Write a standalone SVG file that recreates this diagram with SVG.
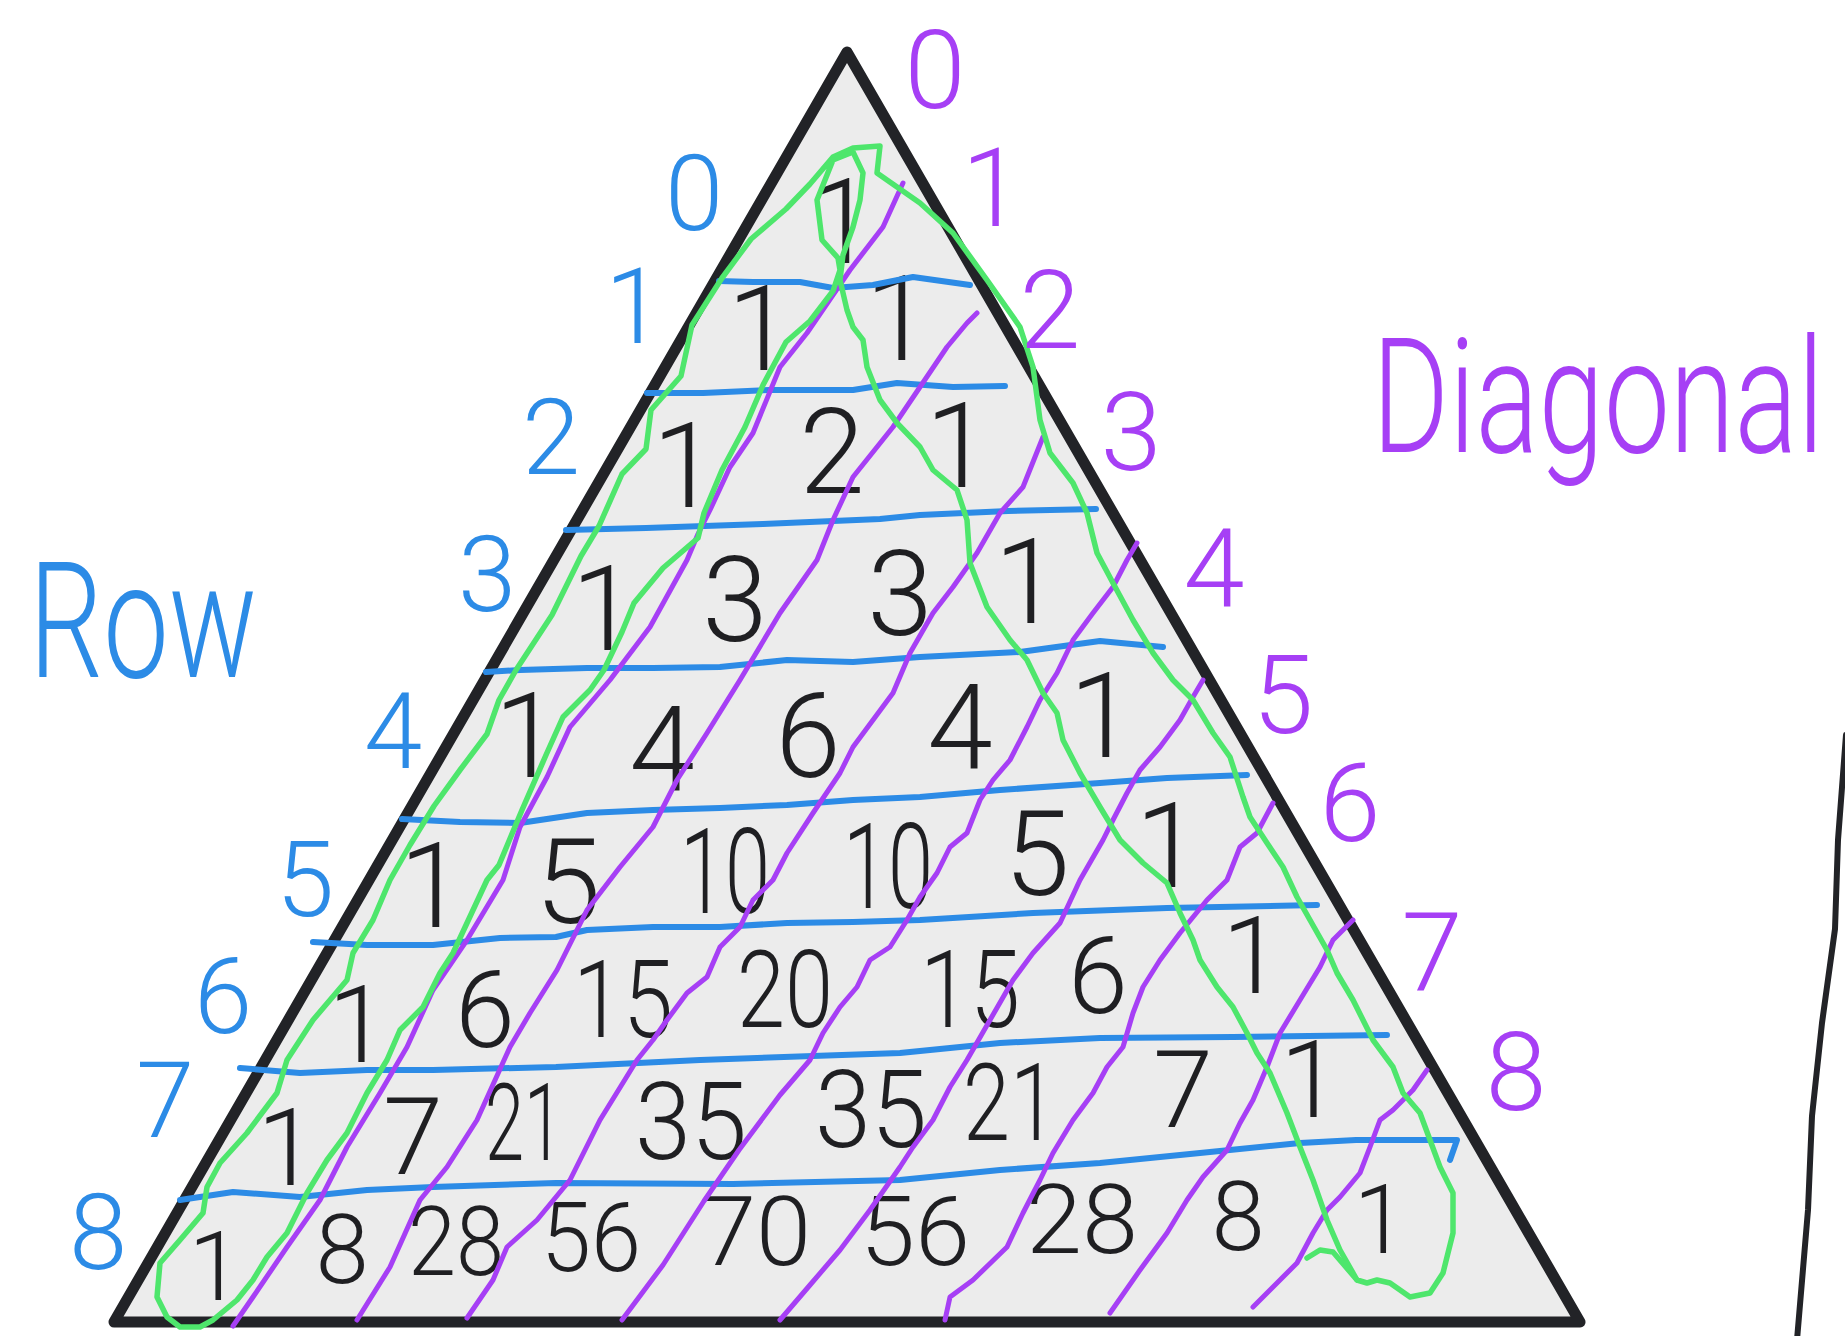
<svg xmlns="http://www.w3.org/2000/svg" width="1845" height="1336" viewBox="0 0 1845 1336">
<style>
.tri{fill:#ececec;stroke:#222327;stroke-width:11;stroke-linejoin:round}
.ink{fill:none;stroke:#222327;stroke-width:6;stroke-linecap:round;stroke-linejoin:round}
.blue{fill:none;stroke:#2c8be6;stroke-width:6;stroke-linecap:round;stroke-linejoin:round}
.purple{fill:none;stroke:#a63ff5;stroke-width:5;stroke-linecap:round;stroke-linejoin:round}
.green{fill:none;stroke:#4ee66c;stroke-width:5.5;stroke-linecap:round;stroke-linejoin:round}
text{font-family:Roboto,"Liberation Sans",sans-serif;font-weight:300;text-anchor:middle}
.n0{font-size:118px;fill:#1f1f22}
.n1{font-size:108px;fill:#1f1f22}
.n2{font-size:96px;fill:#1f1f22}
.bl{font-size:105px;fill:#2c8be6}
.pl{font-size:110px;fill:#a63ff5}
.title{text-anchor:start}
</style>
<g id="triangle"><path class="tri" d="M847,52 L1580,1322 L114,1322 Z"/></g>
<g id="side-line"><path class="ink" d="M1846,735 L1838,840 L1835,929 L1822,1023 L1812,1116 L1808,1210 L1797,1340"/></g>

<g id="numbers">
<g id="r0"><text class="n0" x="842" y="263">1</text></g>
<g id="r1"><text class="n0" x="760" y="370">1</text><text class="n0" x="898" y="360">1</text></g>
<g id="r2"><text class="n0" x="685" y="507">1</text><text class="n0" x="832" y="493">2</text><text class="n0" x="958" y="487">1</text></g>
<g id="r3"><text class="n0" x="604" y="650">1</text><text class="n0" x="735" y="641">3</text><text class="n0" x="900" y="635">3</text><text class="n0" x="1027" y="623">1</text></g>
<g id="r4"><text class="n0" x="527" y="777">1</text><text class="n0" x="662" y="790">4</text><text class="n0" x="808" y="777">6</text><text class="n0" x="960" y="768">4</text><text class="n0" x="1102" y="757">1</text></g>
<g id="r5"><text class="n0" x="432" y="927">1</text><text class="n0" x="568" y="923">5</text><text class="n0" x="725" y="913" textLength="90" lengthAdjust="spacingAndGlyphs">10</text><text class="n0" x="888" y="908" textLength="90" lengthAdjust="spacingAndGlyphs">10</text><text class="n0" x="1037" y="895">5</text><text class="n0" x="1168" y="887">1</text></g>
<g id="r6"><text class="n1" x="358" y="1062">1</text><text class="n1" x="485" y="1047">6</text><text class="n1" x="623" y="1037" textLength="100" lengthAdjust="spacingAndGlyphs">15</text><text class="n1" x="785" y="1027" textLength="96" lengthAdjust="spacingAndGlyphs">20</text><text class="n1" x="970" y="1027" textLength="100" lengthAdjust="spacingAndGlyphs">15</text><text class="n1" x="1098" y="1013">6</text><text class="n1" x="1252" y="993">1</text></g>
<g id="r7"><text class="n1" x="287" y="1185">1</text><text class="n1" x="413" y="1174">7</text><text class="n1" x="524" y="1160" textLength="78" lengthAdjust="spacingAndGlyphs">21</text><text class="n1" x="691" y="1159" textLength="112" lengthAdjust="spacingAndGlyphs">35</text><text class="n1" x="871" y="1147" textLength="112" lengthAdjust="spacingAndGlyphs">35</text><text class="n1" x="1010" y="1140" textLength="94" lengthAdjust="spacingAndGlyphs">21</text><text class="n1" x="1183" y="1127">7</text><text class="n1" x="1310" y="1117">1</text></g>
<g id="r8"><text class="n2" x="215" y="1300">1</text><text class="n2" x="342" y="1283">8</text><text class="n2" x="456" y="1275" textLength="96" lengthAdjust="spacingAndGlyphs">28</text><text class="n2" x="591" y="1271" textLength="100" lengthAdjust="spacingAndGlyphs">56</text><text class="n2" x="756" y="1265" textLength="110" lengthAdjust="spacingAndGlyphs">70</text><text class="n2" x="915" y="1265" textLength="110" lengthAdjust="spacingAndGlyphs">56</text><text class="n2" x="1082" y="1253" textLength="112" lengthAdjust="spacingAndGlyphs">28</text><text class="n2" x="1238" y="1250">8</text><text class="n2" x="1380" y="1253">1</text></g>
</g>

<g id="row-lines">
<path class="blue" d="M719,281 L753,282 L800,282 L833,288 L873,285 L913,277 L970,285"/>
<path class="blue" d="M647,393 L703,393 L770,390 L853,390 L897,383 L953,387 L1005,386"/>
<path class="blue" d="M566,530 L646,528 L763,524 L880,519 L920,515 L1008,511 L1096,509"/>
<path class="blue" d="M486,672 L520,670 L587,668 L653,668 L720,667 L787,660 L853,662 L920,657 L1020,652 L1100,641 L1163,647"/>
<path class="blue" d="M402,819 L460,822 L520,823 L587,813 L653,810 L720,808 L787,805 L853,800 L920,797 L1000,790 L1100,783 L1167,778 L1247,775"/>
<path class="blue" d="M313,942 L367,945 L433,945 L500,938 L556,937 L587,930 L653,927 L720,927 L787,923 L853,922 L920,920 L1033,913 L1167,908 L1317,905"/>
<path class="blue" d="M240,1068 L300,1073 L367,1070 L433,1070 L556,1067 L700,1060 L900,1053 L1000,1043 L1100,1038 L1233,1037 L1387,1035"/>
<path class="blue" d="M180,1200 L233,1192 L300,1197 L367,1190 L433,1187 L556,1183 L733,1184 L900,1180 L1000,1170 L1100,1163 L1200,1153 L1300,1143 L1356,1140 L1457,1140 L1450,1160"/>
</g>

<g id="diagonal-lines">
<path class="purple" d="M903,183 L883,227 L850,270 L807,333 L780,367 L753,433 L730,467 L710,510 L698,534 L687,560 L650,627 L610,680 L570,727 L547,777 L520,827 L503,880 L467,940 L433,990 L407,1047 L380,1093 L347,1147 L320,1200 L287,1247 L253,1297 L233,1326"/>
<path class="purple" d="M977,313 L967,323 L947,347 L920,387 L893,427 L853,477 L833,520 L817,560 L780,613 L740,680 L707,733 L677,780 L653,827 L620,867 L587,910 L557,970 L530,1013 L510,1047 L477,1120 L447,1167 L420,1200 L390,1267 L357,1320"/>
<path class="purple" d="M1043,437 L1023,487 L1000,513 L977,553 L953,587 L933,613 L910,653 L893,693 L873,720 L853,747 L840,773 L813,813 L787,853 L773,880 L753,900 L740,927 L720,947 L707,977 L687,993 L667,1020 L653,1040 L637,1060 L600,1120 L570,1180 L537,1220 L507,1247 L493,1280 L467,1318"/>
<path class="purple" d="M1137,543 L1127,560 L1113,587 L1093,613 L1073,640 L1057,673 L1040,700 L1027,727 L1010,760 L993,780 L980,800 L967,833 L950,847 L937,873 L920,897 L907,920 L890,947 L870,960 L857,987 L840,1007 L823,1033 L810,1060 L780,1095 L739,1150 L704,1201 L663,1265 L622,1320"/>
<path class="purple" d="M1203,680 L1193,697 L1180,720 L1160,747 L1140,770 L1127,793 L1113,820 L1103,840 L1080,880 L1060,923 L1033,953 L1013,980 L990,1020 L967,1060 L950,1087 L933,1120 L913,1147 L900,1167 L870,1210 L840,1250 L810,1285 L780,1320"/>
<path class="purple" d="M1273,803 L1257,833 L1240,847 L1227,880 L1207,900 L1180,933 L1160,960 L1143,987 L1133,1013 L1123,1047 L1107,1067 L1093,1093 L1073,1120 L1053,1153 L1040,1180 L1023,1213 L1007,1247 L973,1280 L950,1297 L945,1320"/>
<path class="purple" d="M1353,920 L1333,940 L1320,967 L1300,1000 L1280,1033 L1267,1067 L1253,1100 L1240,1123 L1227,1150 L1203,1177 L1187,1200 L1167,1233 L1140,1270 L1110,1313"/>
<path class="purple" d="M1427,1070 L1413,1090 L1393,1110 L1380,1120 L1370,1147 L1360,1173 L1340,1197 L1327,1210 L1313,1233 L1297,1263 L1273,1287 L1253,1307"/>
</g>

<g id="highlight">
<path class="green" d="M213,1320 L237,1300 L253,1280 L267,1257 L287,1233 L307,1193 L327,1160 L347,1133 L367,1093 L387,1060 L400,1030 L423,1007 L440,973 L453,953 L467,923 L487,880 L499,865 L522,810 L546,755 L563,717 L590,690 L604,670 L622,632 L634,603 L663,568 L698,538 L704,513 L722,470 L745,427 L763,385 L786,342 L810,321 L833,291 L840,270 L838,258 L822,240 L817,200 L833,160 L853,152 L863,173 L860,200 L853,227 L843,255 L840,280 L847,310 L853,327 L863,340 L867,367 L880,400 L897,423 L920,447 L933,470 L957,490 L967,520 L970,563 L987,607 L1010,640 L1027,660 L1043,693 L1057,713 L1063,740 L1080,773 L1100,807 L1120,840 L1143,863 L1167,883 L1180,913 L1193,940 L1200,960 L1217,987 L1233,1007 L1247,1033 L1257,1053 L1270,1073 L1287,1113 L1300,1147 L1313,1180 L1327,1220 L1340,1250 L1357,1280 L1367,1283 L1377,1280 L1390,1283 L1410,1297 L1430,1293 L1443,1273 L1453,1233 L1453,1193 L1440,1167 L1430,1140 L1420,1113 L1403,1093 L1393,1067 L1373,1040 L1363,1020 L1353,1000 L1337,973 L1327,950 L1310,920 L1297,897 L1283,867 L1267,843 L1250,817 L1243,797 L1230,757 L1213,733 L1193,700 L1173,680 L1153,653 L1133,620 L1113,583 L1097,553 L1087,513 L1073,483 L1050,453 L1040,420 L1033,367 L1020,327 L987,280 L953,233 L920,203 L887,180 L877,173 L880,146 L853,148 L833,157 L810,184 L786,209 L751,239 L722,278 L692,325 L681,376 L651,410 L646,449 L622,474 L599,526 L581,556 L552,615 L516,670 L499,700 L487,734 L460,770 L434,806 L410,845 L390,880 L373,920 L353,953 L347,980 L313,1020 L287,1060 L277,1093 L247,1133 L220,1163 L207,1187 L203,1213 L180,1240 L160,1263 L157,1297 L167,1317 L180,1327 L200,1327 Z"/>
<path class="green" d="M1307,1258 L1320,1250 L1333,1252 L1345,1266 L1357,1280"/>
</g>

<g id="row-labels">
<text class="bl" x="694" y="230">0</text>
<text class="bl" x="634" y="343">1</text>
<text class="bl" x="551" y="474">2</text>
<text class="bl" x="487" y="611">3</text>
<text class="bl" x="393" y="768">4</text>
<text class="bl" x="305" y="916">5</text>
<text class="bl" x="223" y="1033">6</text>
<text class="bl" x="165" y="1137">7</text>
<text class="bl" x="98" y="1269">8</text>
<text class="bl title" transform="translate(29,677) scale(1,1.35)" x="0" y="0" style="font-size:120px" textLength="228" lengthAdjust="spacingAndGlyphs">Row</text>
</g>

<g id="diagonal-labels">
<text class="pl" x="935" y="108">0</text>
<text class="pl" x="992" y="226">1</text>
<text class="pl" x="1050" y="348">2</text>
<text class="pl" x="1131" y="470">3</text>
<text class="pl" x="1214" y="607">4</text>
<text class="pl" x="1283" y="733">5</text>
<text class="pl" x="1350" y="841">6</text>
<text class="pl" x="1432" y="990">7</text>
<text class="pl" x="1516" y="1110">8</text>
<text class="pl title" transform="translate(1372,452) scale(1,1.38)" x="0" y="0" style="font-size:115px" textLength="452" lengthAdjust="spacingAndGlyphs">Diagonal</text>
</g>
</svg>
